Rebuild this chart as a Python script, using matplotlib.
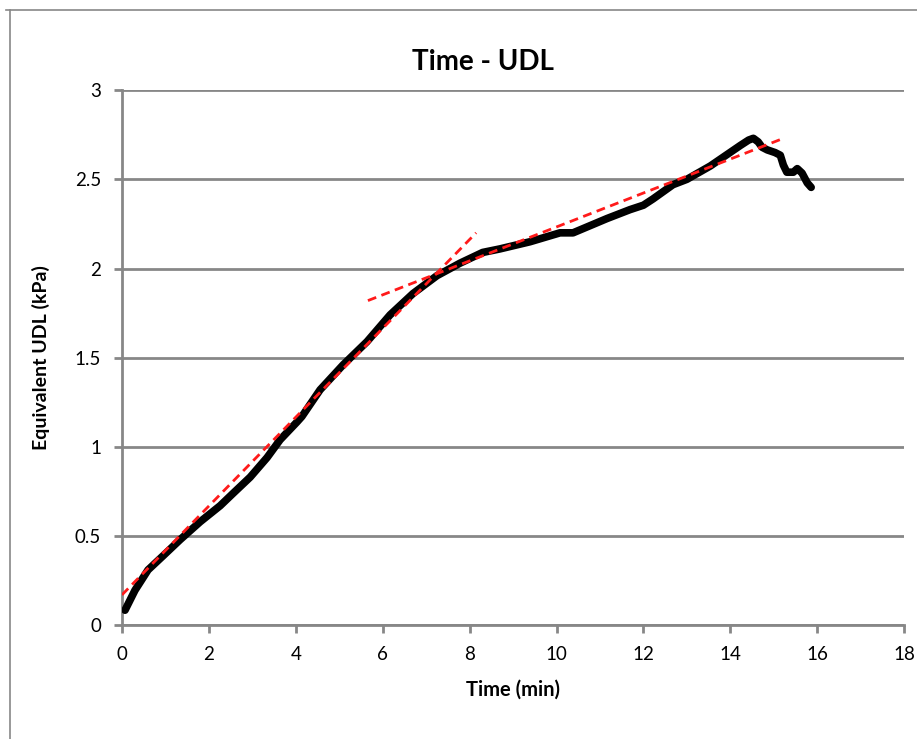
import matplotlib.pyplot as plt
from matplotlib.lines import Line2D

# measured curve (time in min, equivalent UDL in kPa)
time_min = [0.07, 0.30, 0.60, 0.95, 1.34, 1.80, 2.26, 2.56, 2.95, 3.34, 3.64, 4.03,
            4.14, 4.56, 5.09, 5.64, 6.17, 6.70, 7.25, 7.78, 8.30, 8.70, 9.39, 10.08,
            10.38, 10.77, 11.16, 11.69, 12.00, 12.22, 12.68, 13.00, 13.54, 13.93,
            14.23, 14.42, 14.53, 14.64, 14.73, 14.85, 15.03, 15.15, 15.22, 15.30,
            15.45, 15.54, 15.65, 15.77, 15.86]
udl_kpa = [0.084, 0.196, 0.31, 0.39, 0.48, 0.58, 0.67, 0.74, 0.83, 0.94, 1.04, 1.14,
           1.17, 1.32, 1.46, 1.59, 1.74, 1.86, 1.96, 2.03, 2.09, 2.11, 2.15, 2.20,
           2.20, 2.24, 2.28, 2.33, 2.355, 2.39, 2.47, 2.50, 2.575, 2.64,
           2.69, 2.72, 2.73, 2.71, 2.68, 2.665, 2.65, 2.635, 2.58, 2.54,
           2.54, 2.56, 2.535, 2.48, 2.455]

# linear trend lines (start/end)
fit1_x = [0.0, 8.15]
fit1_y = [0.17, 2.20]
fit2_x = [5.66, 15.17]
fit2_y = [1.82, 2.725]

x_ticks = [0, 2, 4, 6, 8, 10, 12, 14, 16, 18]
y_ticks = [0, 0.5, 1, 1.5, 2, 2.5, 3]
y_labels = ['0', '0.5', '1', '1.5', '2', '2.5', '3']

plt.rcParams['font.family'] = ['Lato', 'DejaVu Sans']
grey = '#878787'

fig = plt.figure(figsize=(9.17, 7.39), dpi=100)
ax = fig.add_axes([0.133, 0.154, 0.853, 0.724])

ax.plot(time_min, udl_kpa, color='black', lw=5.5, solid_capstyle='round', zorder=3)
for fx, fy in [(fit1_x, fit1_y), (fit2_x, fit2_y)]:
    ax.plot(fx, fy, color='#ff1a1a', lw=2, linestyle=(0, (3.2, 2.0)), zorder=4)

ax.set_xlim(0, 18)
ax.set_ylim(0, 3)
ax.set_xticks(x_ticks)
ax.set_yticks(y_ticks)
ax.set_yticklabels(y_labels)
ax.yaxis.grid(True, color=grey, lw=2)
ax.set_axisbelow(True)
for s in ['top', 'right']:
    ax.spines[s].set_visible(False)
for s in ['left', 'bottom']:
    ax.spines[s].set_color(grey)
    ax.spines[s].set_linewidth(2)
ax.tick_params(axis='both', direction='out', length=6, width=2, color=grey,
               labelsize=13.5, pad=9)

ax.set_xlabel('Time (min)', fontsize=14.5, fontweight='bold', labelpad=12)
ax.set_ylabel('Equivalent UDL (kPa)', fontsize=14, fontweight='bold', labelpad=18)
fig.text(0.527, 0.916, 'Time - UDL', ha='center', va='center',
         fontsize=20, fontweight='bold')

# chart border (top and left visible)
fig.add_artist(Line2D([6 / 917, 1], [1 - 10 / 739, 1 - 10 / 739], color=grey, lw=1.2))
fig.add_artist(Line2D([10 / 917, 10 / 917], [0, 1 - 10 / 739], color=grey, lw=1.2))

fig.savefig('out.png', dpi=100, facecolor='white')
